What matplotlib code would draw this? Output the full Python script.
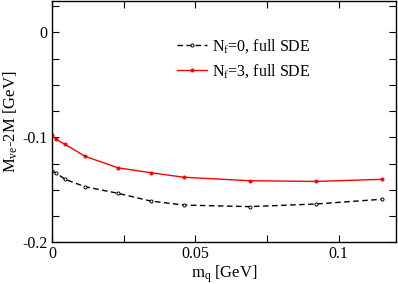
import matplotlib
matplotlib.use("Agg")
import matplotlib.pyplot as plt
from matplotlib.ticker import FixedLocator, FixedFormatter, MultipleLocator

plt.rcParams['font.family'] = ['Liberation Serif', 'DejaVu Serif']
plt.rcParams['mathtext.fontset'] = 'custom'
plt.rcParams['mathtext.rm'] = 'Liberation Serif'
plt.rcParams['mathtext.it'] = 'Liberation Serif:italic'

# data
mq_nf0 = [0.0, 0.0014, 0.0046, 0.0115, 0.023, 0.0345, 0.046, 0.069, 0.092, 0.115]
dm_nf0 = [-0.132, -0.134, -0.140, -0.147, -0.1533, -0.1607, -0.1645, -0.166, -0.1635, -0.159]
mq_nf3 = [0.0, 0.0014, 0.0046, 0.0115, 0.023, 0.0345, 0.046, 0.069, 0.092, 0.115]
dm_nf3 = [-0.098, -0.102, -0.1067, -0.118, -0.129, -0.1337, -0.138, -0.1413, -0.142, -0.140]
label_nf0 = r'N$_{\rm f}$=0, full SDE'
label_nf3 = r'N$_{\rm f}$=3, full SDE'
xticks = [0, 0.05, 0.1]
xticklabels = ['0', '0.05', '0.1']
yticks = [0, -0.1, -0.2]
yticklabels = ['0', '-0.1', '-0.2']

fig = plt.figure(figsize=(3.98, 2.84), dpi=100)
ax = fig.add_axes([52/398, 1-242.3/284, (396-52)/398, (241.3)/284])

ax.plot(mq_nf0, dm_nf0, color='black', ls=(0, (4, 2.5)), lw=1.0, marker='o', ms=2.2,
        mfc='white', mec='black', mew=0.7, label=label_nf0)
ax.plot(mq_nf3, dm_nf3, color='red', ls='-', lw=1.0, marker='o', ms=2.2,
        mfc='red', mec='red', mew=0.7, label=label_nf3)

ax.set_xlim(0, 0.12)
ax.set_ylim(-0.2, 0.03)
ax.xaxis.set_major_locator(FixedLocator(xticks))
ax.xaxis.set_major_formatter(FixedFormatter(xticklabels))
ax.yaxis.set_major_locator(FixedLocator(yticks))
ax.yaxis.set_major_formatter(FixedFormatter(yticklabels))
ax.xaxis.set_minor_locator(MultipleLocator(0.025))
ax.yaxis.set_minor_locator(MultipleLocator(0.025))
ax.tick_params(which='both', direction='in', top=True, right=True, length=5, width=0.8,
               labelsize=11.5, pad=3)
for s in ax.spines.values():
    s.set_linewidth(1.0)

ax.set_xlabel(r'm$_{\rm q}$ [GeV]', fontsize=12, labelpad=1)
ax.set_ylabel(r'M$_{\rm ve}$-2M [GeV]', fontsize=12, labelpad=2)

ax.legend(loc='upper left', bbox_to_anchor=(0.363, 0.852), frameon=False, fontsize=11.5,
          handlelength=1.9, handletextpad=0.3, labelspacing=0.5, borderaxespad=0, borderpad=0)

fig.savefig('out.png', dpi=100)
